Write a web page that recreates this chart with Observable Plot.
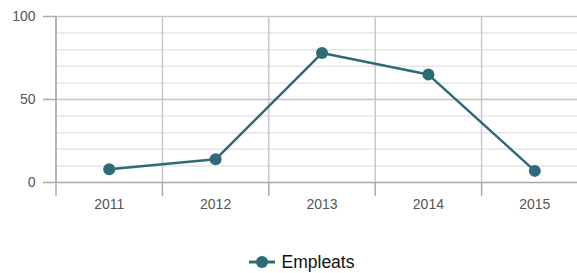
<!DOCTYPE html>
<html>
<head>
<meta charset="utf-8">
<script src="https://cdn.jsdelivr.net/npm/d3@7"></script>
<script src="https://cdn.jsdelivr.net/npm/@observablehq/plot@0.6"></script>
<style>
  body { margin: 0; background: #fff; font-family: "Liberation Sans", Arial, sans-serif; }
  #chart svg { display: block; overflow: hidden; }
  #legend { height: 20px; margin-top: 22px; display: flex; justify-content: center; align-items: center; padding-left: 26px; box-sizing: border-box; }
  #legend span { font-size: 17.5px; color: #111; margin-left: 7px; }
</style>
</head>
<body>
<div id="chart"></div>
<div id="legend"></div>
<script>
const years = [2011, 2012, 2013, 2014, 2015];
const empleats = [8, 14, 78, 65, 7];
const seriesName = "Empleats";
const majorTicks = [0, 50, 100];
const minorTicks = [10, 20, 30, 40, 60, 70, 80, 90];
const color = "#2e6b77";

const data = years.map((y, i) => ({year: y, value: empleats[i]}));
const boundaries = [years[0] - 0.5, ...years.map(y => y + 0.5)];

const chart = Plot.plot({
  width: 577,
  height: 230,
  marginTop: 16,
  marginBottom: 48,
  marginLeft: 56,
  marginRight: 0,
  style: {fontFamily: "Liberation Sans, Arial, sans-serif", fontSize: "14px", background: "#fff"},
  x: {domain: [2010.5, 2015.5], range: [55.5, 587.5]},
  y: {domain: [0, 100]},
  marks: [
    Plot.ruleY(minorTicks, {stroke: "#e6e6e6", strokeWidth: 1.5, strokeOpacity: 1}),
    Plot.ruleY([50, 100], {stroke: "#c4c4c4", strokeWidth: 1.5, strokeOpacity: 1}),
    Plot.ruleX(boundaries, {stroke: "#c8c8c8", strokeWidth: 1.5, strokeOpacity: 1}),
    Plot.ruleY([0], {stroke: "#aaa", strokeWidth: 1.5}),
    Plot.ruleX([boundaries[0]], {stroke: "#aaa", strokeWidth: 1.5}),
    Plot.axisY({ticks: majorTicks, tickSize: 13, tickPadding: 8, fontSize: 14, color: "#555", stroke: "#aaa", strokeWidth: 1.5, label: null}),
    Plot.axisX({ticks: boundaries, tickSize: 14, tickFormat: () => "", stroke: "#aaa", strokeWidth: 1.5, label: null}),
    Plot.axisX({ticks: years, tickSize: 0, tickPadding: 17, fontSize: 14, color: "#555", tickFormat: d => String(d), label: null}),
    Plot.line(data, {x: "year", y: "value", stroke: color, strokeWidth: 2.5}),
    Plot.dot(data, {x: "year", y: "value", r: 6, fill: color, stroke: "none"})
  ]
});
document.getElementById("chart").appendChild(chart);

const legend = document.getElementById("legend");
legend.innerHTML = `<svg width="26" height="14"><line x1="0" y1="7" x2="26" y2="7" stroke="${color}" stroke-width="3"/><circle cx="13" cy="7" r="6" fill="${color}"/></svg><span>${seriesName}</span>`;
</script>
</body>
</html>
